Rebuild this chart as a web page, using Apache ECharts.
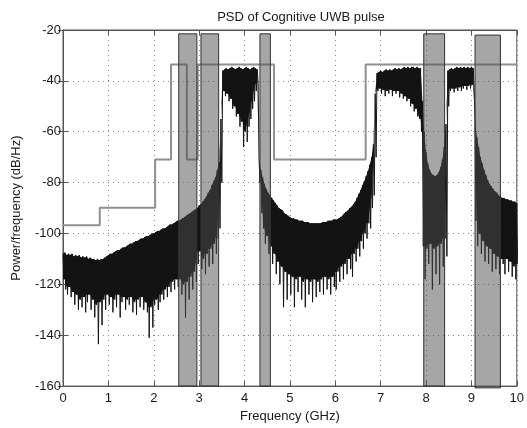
<!DOCTYPE html>
<html><head><meta charset="utf-8">
<script src="https://cdn.jsdelivr.net/npm/echarts/dist/echarts.min.js"></script>
<style>html,body{margin:0;padding:0;background:#fff}#chart{width:527px;height:428px}</style>
</head><body><div id="chart"></div>
<script>
// ---- axis ticks ----
const xTicks = [0, 1, 2, 3, 4, 5, 6, 7, 8, 9, 10];
const yTicks = [-160, -140, -120, -100, -80, -60, -40, -20];

const psdStep = 0.04;
// upper edge of the oscillating trace (dB/Hz)
const psdHigh = [
  -108,-107.5,-108.5,-108,-108.5,-108,-109,-108.5,-109,-108.5,
  -109.5,-109,-109.5,-109,-110,-109.5,-110,-110,-110.5,-110,
  -110.5,-110,-110,-109.5,-109,-108.5,-108,-108,-107.5,-107,
  -106.5,-106.5,-106,-105.5,-105.5,-105,-104.5,-104,-104,-103.5,
  -103,-103,-102.5,-102,-102,-101.5,-101,-101,-100.5,-100,
  -100,-99.5,-99,-99,-98.5,-98,-98,-97.5,-97,-96.5,
  -96.5,-96,-95.5,-95,-95,-94.5,-94,-93.5,-93,-92.5,
  -92,-91.5,-91,-90.5,-90,-89,-88.5,-87.5,-86.5,-85.5,
  -84,-83,-81,-79.5,-78,-75,-72,-55,-36,-35.5,
  -35,-35.5,-35,-34.5,-35,-35.5,-35,-34.5,-35,-35.5,
  -35,-34.5,-35,-35.5,-35,-34.5,-35,-35.5,-70,-75,
  -78,-80.5,-82.5,-84,-85,-86,-87,-88,-89,-90,
  -90.5,-91,-92,-92.5,-93,-93.5,-94,-94,-94.5,-94.5,
  -95,-95,-95,-95.5,-95.5,-95.5,-96,-96,-96,-96,
  -96,-96,-96,-95.5,-95.5,-95.5,-95,-95,-95,-94.5,
  -94.5,-94.5,-94,-93.5,-93,-92,-91.5,-91,-90,-89.5,
  -88.5,-87.5,-86,-84.5,-83,-81,-79.5,-77.5,-75.5,-73,
  -70,-65,-45,-37,-36.5,-36,-36.5,-36,-35.5,-36,
  -35.5,-36,-35.5,-35,-35.5,-35,-35.5,-35,-34.5,-35,
  -34.5,-35,-34.5,-34.5,-35,-34.5,-35,-35,-48,-60,
  -68,-72.5,-75,-76.5,-77,-77.5,-77,-76,-74,-71,
  -66,-57,-36,-35.5,-35,-35.5,-35,-34.5,-35,-34.5,
  -35,-34.5,-35,-34.5,-35,-34.5,-35,-55,-62,-66,
  -70,-72.5,-75,-77,-79,-80.5,-81.5,-82.5,-83.5,-84,
  -85,-85.5,-86,-86,-86.5,-86.5,-87,-87,-87.5,-87.5,
  -88
];
// lower tips of the oscillating trace (dB/Hz)
const psdLow = [
  -118,-122,-124,-121,-125,-123,-128,-124,-130,-126,
  -129,-125,-131,-127,-124,-130,-126,-133,-128,-143.5,
  -127,-136,-126,-130,-124,-128,-125,-131,-126,-129,
  -124,-133,-127,-125,-130,-126,-128,-125,-131,-127,
  -132,-126,-129,-125,-130,-127,-131,-141,-129,-137,
  -128,-126,-130,-127,-124,-126,-122,-125,-121,-123,
  -119,-122,-118,-121,-118,-124,-120,-133,-119,-126,
  -117,-122,-115,-119,-112,-107,-114,-110,-116,-108,
  -113,-106,-112,-104,-108,-102,-98,-80,-44,-46,
  -45,-48,-47,-51,-50,-54,-53,-58,-56,-66,
  -60,-64,-58,-55,-51,-48,-44,-41,-80,-92,
  -98,-104,-101,-108,-105,-112,-108,-116,-111,-120,
  -113,-129,-115,-126,-116,-124,-117,-129,-118,-123,
  -117,-126,-119,-129,-118,-124,-119,-127,-118,-125,
  -119,-123,-118,-124,-117,-122,-118,-124,-117,-121,
  -122,-115,-119,-113,-118,-112,-116,-110,-114,-117,
  -108,-111,-106,-109,-103,-106,-100,-102,-96,-98,
  -90,-85,-70,-44,-43,-45,-43.5,-46,-44,-45,
  -43.5,-46,-44,-45,-44,-46.5,-45,-47,-46,-48,
  -47,-50,-49,-52,-51,-54,-55,-60,-105,-118,
  -106,-112,-104,-122,-106,-116,-105,-120,-104,-113,
  -102,-109,-50,-44,-43,-44.5,-43,-44,-42.5,-44,
  -43,-42,-43.5,-42,-43,-41.5,-42.5,-95,-105,-100,
  -108,-103,-111,-105,-112,-106,-115,-108,-114,-109,
  -116,-110,-112,-116,-110,-115,-111,-117,-113,-118,
  -112
];

// ---- emission mask (step line): level holds from maskFreq[i] to maskFreq[i+1] ----
const maskFreq  = [0, 0.81, 2.03, 2.38, 2.73, 2.97, 4.65, 6.67, 10];
const maskLevel = [-96.8, -89.9, -70.9, -33.6, -70.9, -33.6, -70.9, -33.6];

// ---- shaded (notched) bands ----
const bandStart  = [2.55, 3.04, 4.34, 7.95, 9.08];
const bandEnd    = [2.95, 3.43, 4.57, 8.41, 9.64];
const bandTop    = [-21.5, -21.5, -21.5, -21.5, -22];
const bandBottom = [-160, -160, -160, -160, -160.7];

// ---- build series data from the arrays ----
const psdPoints = [];
psdHigh.forEach((h, i) => {
  const f = i * psdStep;
  psdPoints.push([f, h]);
  psdPoints.push([f + psdStep / 2, psdLow[i]]);
});
// solid core of the trace: from the upper edge down to the shallowest neighbouring tip
const coreRows = psdHigh.map((h, i) => {
  const a = psdLow[Math.max(0, i - 1)], b = psdLow[Math.min(psdLow.length - 1, i + 1)];
  return [i * psdStep, h, Math.min(h, Math.max(a, psdLow[i], b))];
});
const maskPoints = [];
maskLevel.forEach((lv, i) => {
  maskPoints.push([maskFreq[i], lv]);
  maskPoints.push([maskFreq[i + 1], lv]);
});
const bandData = bandStart.map((s, i) => [s, bandEnd[i], bandBottom[i], bandTop[i]]);

const FONT = "'Liberation Sans', Arial, Helvetica, sans-serif";
const axisColor = '#555';
const txtColor = '#1a1a1a';
const traceColor = '#141414';

const chart = echarts.init(document.getElementById('chart'), null, {renderer: 'canvas'});
chart.setOption({
  animation: false,
  backgroundColor: '#fff',
  textStyle: {fontFamily: FONT},
  title: {
    text: 'PSD of Cognitive UWB pulse',
    left: 296, top: 6, textAlign: 'center',
    textStyle: {fontSize: 13, fontWeight: 'normal', color: txtColor, fontFamily: FONT}
  },
  grid: {left: 63, right: 9, top: 30, bottom: 38, show: true, borderColor: axisColor, borderWidth: 1, backgroundColor: 'transparent'},
  xAxis: [{
    type: 'value', min: xTicks[0], max: xTicks[xTicks.length - 1], interval: xTicks[1] - xTicks[0],
    name: 'Frequency (GHz)', nameLocation: 'middle', nameGap: 21,
    nameTextStyle: {fontSize: 13, color: txtColor, fontFamily: FONT},
    axisLine: {show: true, lineStyle: {color: axisColor}},
    axisTick: {show: true, inside: true, length: 5, lineStyle: {color: axisColor}},
    axisLabel: {fontSize: 13, color: txtColor, margin: 6, fontFamily: FONT},
    splitLine: {show: true, lineStyle: {color: '#888', type: [1, 4], width: 1}}
  }, {
    type: 'value', position: 'top', min: xTicks[0], max: xTicks[xTicks.length - 1], interval: xTicks[1] - xTicks[0],
    axisLine: {show: true, lineStyle: {color: axisColor}},
    axisTick: {show: true, inside: true, length: 5, lineStyle: {color: axisColor}},
    axisLabel: {show: false}, splitLine: {show: false}
  }],
  yAxis: [{
    type: 'value', min: yTicks[0], max: yTicks[yTicks.length - 1], interval: yTicks[1] - yTicks[0],
    name: 'Power/frequency (dB/Hz)', nameLocation: 'middle', nameGap: 40,
    nameTextStyle: {fontSize: 13, color: txtColor, fontFamily: FONT},
    axisLine: {show: true, lineStyle: {color: axisColor}},
    axisTick: {show: true, inside: true, length: 5, lineStyle: {color: axisColor}},
    axisLabel: {fontSize: 13, color: txtColor, margin: 2, fontFamily: FONT},
    splitLine: {show: true, lineStyle: {color: '#888', type: [1, 4], width: 1}}
  }, {
    type: 'value', position: 'right', min: yTicks[0], max: yTicks[yTicks.length - 1], interval: yTicks[1] - yTicks[0],
    axisLine: {show: true, lineStyle: {color: axisColor}},
    axisTick: {show: true, inside: true, length: 5, lineStyle: {color: axisColor}},
    axisLabel: {show: false}, splitLine: {show: false}
  }],
  series: [{
    name: 'PSD core', type: 'custom', data: coreRows, z: 2, silent: true, clip: true,
    encode: {x: 0, y: [1, 2]},
    renderItem: (params, api) => {
      if (params.dataIndex !== 0) return null;
      const top = coreRows.map(r => api.coord([r[0], r[1]]));
      const bottom = coreRows.map(r => api.coord([r[0], r[2]])).reverse();
      return {type: 'polygon', shape: {points: top.concat(bottom)}, style: {fill: traceColor}};
    }
  }, {
    name: 'PSD', type: 'line', data: psdPoints, symbol: 'none', clip: true, z: 3,
    sampling: null, lineStyle: {color: traceColor, width: 1}
  }, {
    name: 'Mask', type: 'line', data: maskPoints, symbol: 'none', clip: true, z: 4,
    lineStyle: {color: '#909090', width: 2}
  }, {
    name: 'Bands', type: 'custom', data: bandData, z: 5,
    encode: {x: [0, 1], y: [2, 3]},
    renderItem: (params, api) => {
      const p0 = api.coord([api.value(0), api.value(3)]);
      const p1 = api.coord([api.value(1), api.value(2)]);
      return {
        type: 'rect',
        shape: {x: p0[0], y: p0[1], width: p1[0] - p0[0], height: p1[1] - p0[1]},
        style: {fill: 'rgba(77,77,77,0.5)', stroke: '#333', lineWidth: 1}
      };
    }
  }]
});
</script></body></html>
